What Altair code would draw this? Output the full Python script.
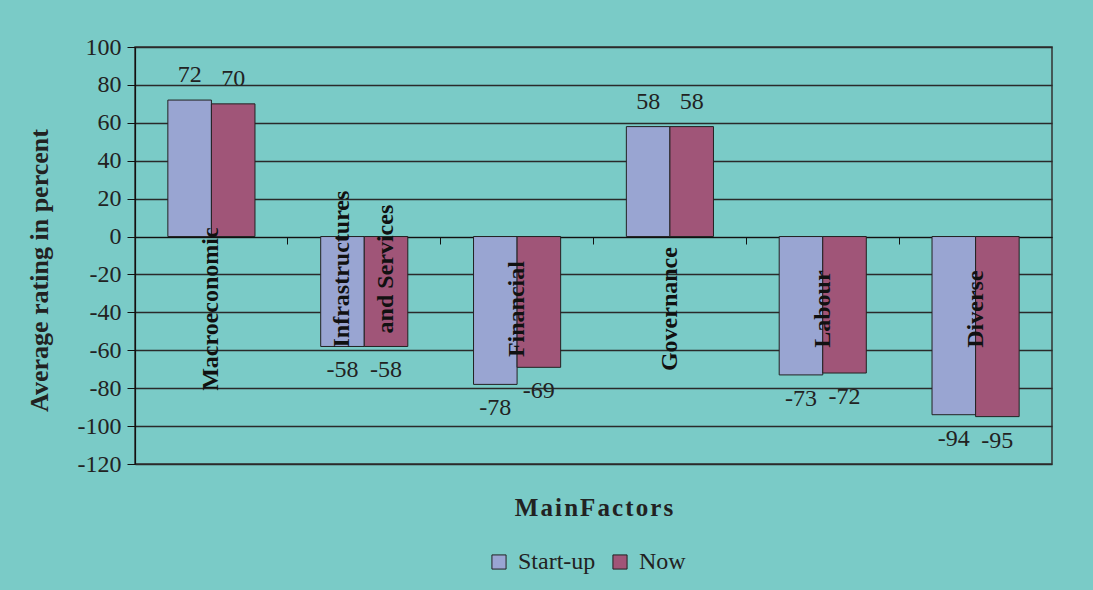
import altair as alt
import pandas as pd

factors = ["Macroeconomic", "Infrastructures and Services", "Financial",
           "Governance", "Labour", "Diverse"]
single_labels = ["Macroeconomic", "Financial", "Governance", "Labour", "Diverse"]
infra_lines = ["Infrastructures", "and Services"]
series = ["Start-up", "Now"]
startup = [72, -58, -78, 58, -73, -94]
now = [70, -58, -69, 58, -72, -95]
y_ticks = list(range(-120, 101, 20))
colors = ["#99A5D2", "#A05578"]
label_level = -33
infra_level = -14

rows = []
for f, s_v, n_v in zip(factors, startup, now):
    rows.append({"Factor": f, "Series": "Start-up", "Value": s_v})
    rows.append({"Factor": f, "Series": "Now", "Value": n_v})
df = pd.DataFrame(rows)
lab = pd.DataFrame({"Factor": single_labels, "Label": single_labels})
infra = pd.DataFrame({"Factor": [factors[1]] * 2, "Series": series, "Label": infra_lines})

SERIF = "Liberation Serif"
TEAL = "#7ACBC7"
HS = "\u200a"
x_title = HS.join("MainFactors")

x_axis = alt.Axis(title=x_title, labels=False, offset=-227,
                  domain=True, domainColor="#111", domainWidth=1.2,
                  ticks=True, tickColor="#111", tickSize=7, bandPosition=-0.377,
                  titleFont=SERIF, titleFontSize=25, titleFontWeight="bold",
                  titleColor="#222", titleBaseline="alphabetic", titleY=278)
x_scale = alt.Scale(paddingInner=0.43, paddingOuter=0.215)
y_scale = alt.Scale(domain=[-120, 100], nice=False)
y_axis = alt.Axis(title="Average rating in percent", values=y_ticks, tickCount=12,
                  labelOverlap=False, labelExpr="'' + datum.value",
                  grid=True, gridColor="#2a2a2a", gridWidth=1.3,
                  domain=True, domainColor="#111", domainWidth=1.2,
                  ticks=True, tickColor="#111", tickSize=8,
                  labelFont=SERIF, labelFontSize=24, labelColor="#222",
                  labelPadding=6,
                  titleFont=SERIF, titleFontSize=26, titleFontWeight="bold",
                  titleColor="#222", titleAngle=270, titleX=-83, titleY=223,
                  titleAlign="center", titleBaseline="bottom")

x_enc = alt.X("Factor:N", sort=factors, scale=x_scale, axis=x_axis)
y_enc = alt.Y("Value:Q", scale=y_scale, axis=y_axis)
xoff = alt.XOffset("Series:N", sort=series, scale=alt.Scale(domain=series))

bars = alt.Chart(df).mark_bar(stroke="#222", strokeWidth=1).encode(
    x=x_enc, xOffset=xoff, y=y_enc,
    color=alt.Color("Series:N", sort=series,
                    scale=alt.Scale(domain=series, range=colors),
                    legend=alt.Legend(title=None, orient="none", legendX=352, legendY=503,
                                      direction="horizontal", symbolType="square",
                                      symbolSize=200, symbolStrokeColor="#222",
                                      symbolStrokeWidth=1, labelFont=SERIF,
                                      labelFontSize=24, labelColor="#222",
                                      labelOffset=7, columnPadding=12)),
)

base_text = alt.Chart(df).transform_calculate(lbl="'' + datum.Value")
pos_text = base_text.transform_filter("datum.Value >= 0").mark_text(
    font=SERIF, fontSize=24, color="#222", dy=-25, baseline="middle").encode(
    x=x_enc, xOffset=xoff, y=y_enc, text="lbl:N")
neg_text = base_text.transform_filter("datum.Value < 0").mark_text(
    font=SERIF, fontSize=24, color="#222", dy=24, baseline="middle").encode(
    x=x_enc, xOffset=xoff, y=y_enc, text="lbl:N")

cat_text = alt.Chart(lab).mark_text(
    font=SERIF, fontSize=24, fontWeight="bold", color="#111", angle=270,
    align="center", baseline="middle", dx=-10).encode(
    x=x_enc, y=alt.YDatum(label_level, scale=y_scale, axis=y_axis), text="Label:N")

infra_text = alt.Chart(infra).mark_text(
    font=SERIF, fontSize=24, fontWeight="bold", color="#111", angle=270,
    align="center", baseline="middle", dx=-6).encode(
    x=x_enc, xOffset=xoff,
    y=alt.YDatum(infra_level, scale=y_scale, axis=y_axis), text="Label:N")

chart = alt.layer(bars, pos_text, neg_text, cat_text, infra_text).properties(
    width=917, height=417,
    autosize=alt.AutoSizeParams(type="none"),
    padding={"left": 135, "top": 47, "right": 41, "bottom": 126},
    background=TEAL,
).configure_view(stroke="#333", strokeWidth=1.5)

chart.save("out.html", embed_options={"renderer": "svg", "actions": False})
